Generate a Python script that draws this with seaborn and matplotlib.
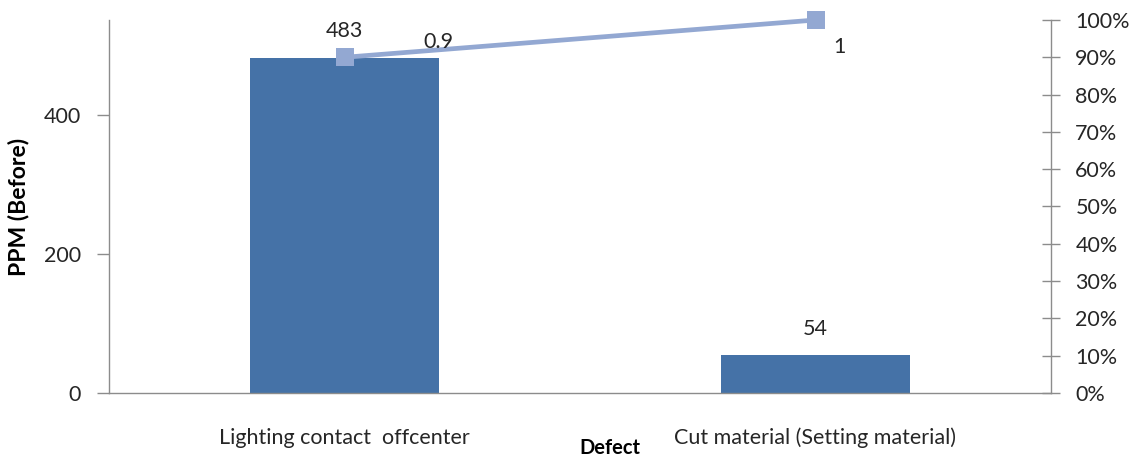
import matplotlib
matplotlib.use("Agg")
import matplotlib.pyplot as plt
import seaborn as sns
import numpy as np
import pandas as pd
from matplotlib.ticker import MultipleLocator, PercentFormatter

categories = ["Lighting contact  offcenter", "Cut material (Setting material)"]
ppm_before = [483, 54]
cumulative = [0.9, 1.0]
cum_labels = ["0.9", "1"]

sns.set_theme(style="white")
plt.rcParams["font.family"] = ["Lato", "DejaVu Sans"]

bar_color = "#4572A7"
line_color = "#93A8D2"
axis_color = "#8C8C8C"
text_color = "#262626"
FS = 15.5

df = pd.DataFrame({"Defect": categories, "PPM": ppm_before})

fig = plt.figure(figsize=(11.37, 4.57), dpi=100)
ax = fig.add_axes([109/1137, 1 - 393/457, (1051-109)/1137, (393-20)/457])

sns.barplot(data=df, x="Defect", y="PPM", color=bar_color, width=0.4,
            saturation=1, ax=ax, edgecolor="none")
ax.set_xlim(-0.5, len(categories) - 0.5)
ax.set_ylim(0, 537)
ax.yaxis.set_major_locator(MultipleLocator(200))

for i, v in enumerate(ppm_before):
    ax.text(i, v + 38, str(v), ha="center", va="center", fontsize=FS, color=text_color)

ax2 = ax.twinx()
xpos = np.arange(len(categories))
sns.lineplot(x=xpos, y=cumulative, ax=ax2, color=line_color, lw=3.4,
             marker="s", markersize=12.5, markeredgewidth=0, markerfacecolor=line_color)
for ln in ax2.lines:
    ln.set_clip_on(False)
ax2.set_ylim(0, 1)
ax2.yaxis.set_major_locator(MultipleLocator(0.1))
ax2.yaxis.set_major_formatter(PercentFormatter(1.0, decimals=0))
ax2.set_xlim(-0.5, len(categories) - 0.5)

offsets = [(0.2, 0.041), (0.05, -0.072)]
for i, (v, lab) in enumerate(zip(cumulative, cum_labels)):
    dx, dy = offsets[i]
    ax2.text(i + dx, v + dy, lab, ha="center", va="center", fontsize=FS, color=text_color)

for a in (ax, ax2):
    for s in a.spines.values():
        s.set_visible(False)
ax.spines["left"].set_visible(True)
ax.spines["bottom"].set_visible(True)
ax2.spines["right"].set_visible(True)
for s in (ax.spines["left"], ax.spines["bottom"], ax2.spines["right"]):
    s.set_color(axis_color)
    s.set_linewidth(1.0)

ax.set_xticks([-0.5, 0.5, 1.5], minor=False)
ax.set_xticklabels([])
ax.set_xticks(xpos, minor=True)
ax.set_xticklabels(categories, minor=True, fontsize=FS, color=text_color)
ax.tick_params(axis="x", which="major", length=10, width=1, color=axis_color, direction="out")
ax.tick_params(axis="x", which="minor", length=0, pad=25)
ax.tick_params(axis="y", length=9, width=1, color=axis_color, direction="out",
               left=True, labelsize=FS, labelcolor=text_color, pad=11)
ax2.tick_params(axis="y", length=13, width=1, color=axis_color, direction="inout",
                right=True, labelsize=FS, labelcolor=text_color, pad=11)

ax.set_xlabel("Defect", fontsize=14.5, fontweight="bold", color="black")
ax.xaxis.set_label_coords((610-109)/942, -(438-393)/373)
ax.set_ylabel("PPM (Before)", fontsize=16.5, fontweight="bold", color="black")
ax.yaxis.set_label_coords(-(109-29)/942, 0.5)
ax2.set_ylabel("")
ax.grid(False)
ax2.grid(False)

fig.savefig("out.png", dpi=100, facecolor="white")
